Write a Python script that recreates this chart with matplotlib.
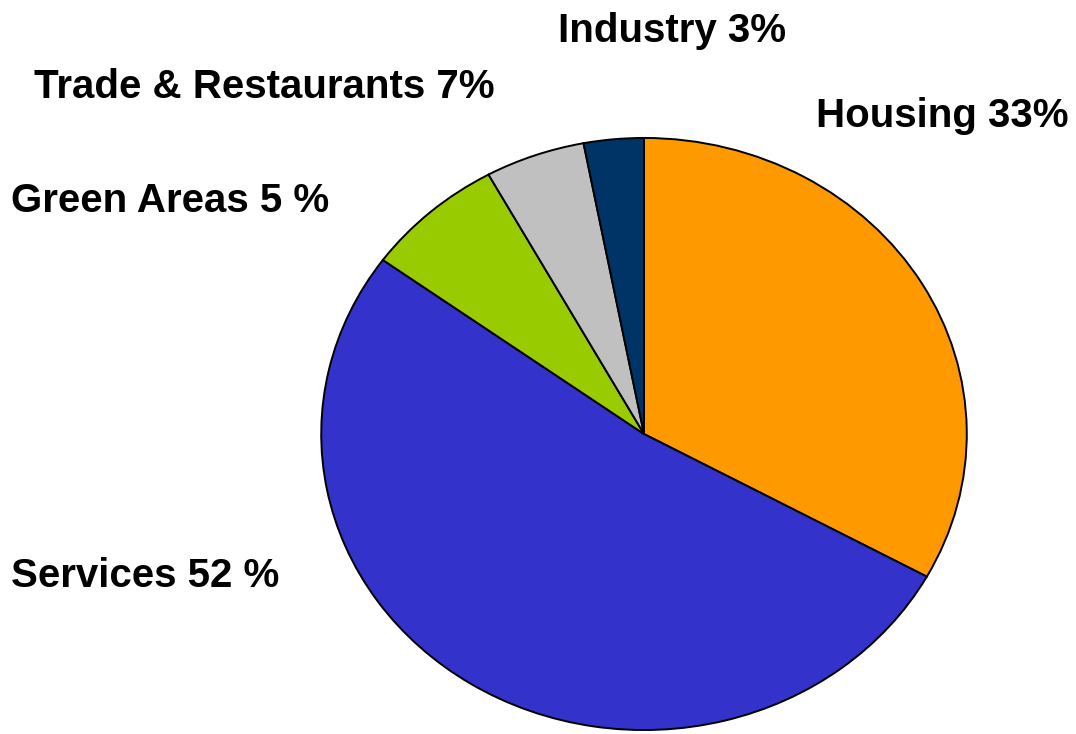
import matplotlib.pyplot as plt

# slices clockwise from 12 o'clock
sectors = ["Housing", "Services", "Green Areas", "Trade & Restaurants", "Industry"]
shares = [33, 52, 7, 5, 3]
colors = ["#FF9900", "#3333CC", "#99CC00", "#C0C0C0", "#003366"]

# text labels as printed on the chart
labels = ["Industry 3%", "Trade & Restaurants 7%", "Housing 33%", "Green Areas 5 %", "Services 52 %"]

W, H = 1076, 734
fig = plt.figure(figsize=(W / 100, H / 100), dpi=100)

# pie is a bit wider than tall in the reference
left, right, top, bottom = 318, 970, 135, 733
ax = fig.add_axes([left / W, (H - bottom) / H, (right - left) / W, (bottom - top) / H])
ax.pie(shares, colors=colors, startangle=90, counterclock=False,
       wedgeprops=dict(edgecolor="black", linewidth=1.4))
ax.set_aspect("auto")
ax.set_xlim(-1.01, 1.01)
ax.set_ylim(-1.01, 1.01)
ax.axis("off")

# label anchors in pixels (left x, baseline y)
spots = [(558, 42), (34, 98), (816, 127), (11, 212), (11, 587)]
for txt, (x, y) in zip(labels, spots):
    fig.text(x / W, 1 - y / H, txt, ha="left", va="baseline",
             fontsize=29, fontweight="bold", family="Liberation Sans")

fig.savefig("out.png", dpi=100)
